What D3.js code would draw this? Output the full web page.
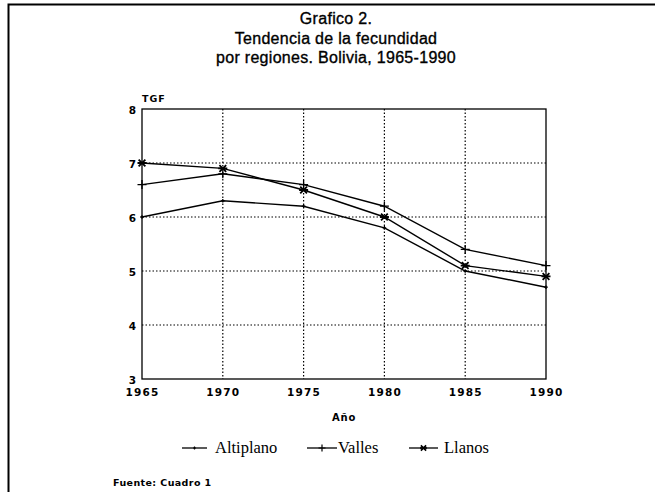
<!DOCTYPE html>
<html>
<head>
<meta charset="utf-8">
<script src="https://cdn.jsdelivr.net/npm/d3@7"></script>
<style>
  body { margin: 0; background: #fff; }
  svg { display: block; }
</style>
</head>
<body>
<div id="chart"></div>
<script>
// data
const years = [1965, 1970, 1975, 1980, 1985, 1990];
const altiplano = [6.0, 6.3, 6.2, 5.8, 5.0, 4.7];
const valles = [6.6, 6.8, 6.6, 6.2, 5.4, 5.1];
const llanos = [7.0, 6.9, 6.5, 6.0, 5.1, 4.9];
const yTicks = [3, 4, 5, 6, 7, 8];
const seriesNames = ['Altiplano', 'Valles', 'Llanos'];
const titleLines = ['Grafico 2.', 'Tendencia de la fecundidad', 'por regiones. Bolivia, 1965-1990'];

const width = 655, height = 492;
const margin = { top: 109, right: 109, bottom: 113, left: 142 };
const w = width - margin.left - margin.right;
const h = height - margin.top - margin.bottom;

const svg = d3.select('#chart').append('svg')
  .attr('width', width)
  .attr('height', height);

// page frame (left and top only)
svg.append('path')
  .attr('d', `M8.5,${height} V4.5 H${width}`)
  .attr('fill', 'none')
  .attr('stroke', '#000')
  .attr('stroke-width', 2);

// title
svg.append('g')
  .selectAll('text')
  .data(titleLines)
  .enter()
  .append('text')
  .attr('x', 336)
  .attr('y', (d, i) => 24 + i * 19.5)
  .attr('text-anchor', 'middle')
  .style('font-family', 'Liberation Sans, Arial, sans-serif')
  .style('font-size', '16px')
  .style('letter-spacing', '0.3px')
  .style('stroke', '#000')
  .style('stroke-width', '0.35px')
  .text(d => d);

const x = d3.scaleLinear().domain([1965, 1990]).range([0, w]);
const y = d3.scaleLinear().domain([3, 8]).range([h, 0]);

const g = svg.append('g')
  .attr('transform', `translate(${margin.left},${margin.top})`);

// grid
g.append('g')
  .attr('class', 'xgrid')
  .selectAll('line')
  .data(years.slice(1, -1))
  .enter()
  .append('line')
  .attr('x1', d => x(d)).attr('x2', d => x(d))
  .attr('y1', 0).attr('y2', h)
  .attr('stroke', '#000')
  .attr('stroke-width', 1.2)
  .attr('stroke-dasharray', '1.5,2');

g.append('g')
  .attr('class', 'ygrid')
  .selectAll('line')
  .data(yTicks.slice(1, -1))
  .enter()
  .append('line')
  .attr('x1', 0).attr('x2', w)
  .attr('y1', d => y(d)).attr('y2', d => y(d))
  .attr('stroke', '#000')
  .attr('stroke-width', 1.2)
  .attr('stroke-dasharray', '1.5,2');

// plot box
g.append('rect')
  .attr('x', 0).attr('y', 0)
  .attr('width', w).attr('height', h)
  .attr('fill', 'none')
  .attr('stroke', '#000')
  .attr('stroke-width', 1.3);

// axes (labels only, no tick lines)
const xAxis = d3.axisBottom(x).tickValues(years).tickFormat(d3.format('d')).tickSize(0).tickPadding(10);
const yAxis = d3.axisLeft(y).tickValues(yTicks).tickFormat(d3.format('d')).tickSize(0).tickPadding(6);

const gx = g.append('g').attr('class', 'xAxis').attr('transform', `translate(0,${h})`).call(xAxis);
const gy = g.append('g').attr('class', 'yAxis').call(yAxis);
[gx, gy].forEach(a => {
  a.select('.domain').remove();
  a.selectAll('.tick text')
    .style('font-family', 'DejaVu Sans, sans-serif')
    .style('font-weight', 'bold')
    .style('font-size', '10.5px')
    .style('fill', '#000');
});
gx.selectAll('.tick text').style('letter-spacing', '1.2px');
gy.selectAll('.tick text').attr('dy', '0.4em');

// axis names
g.append('text')
  .attr('x', 0).attr('y', -7)
  .style('font-family', 'DejaVu Sans, sans-serif')
  .style('font-weight', 'bold')
  .style('font-size', '9.5px')
  .style('letter-spacing', '1px')
  .text('TGF');

g.append('text')
  .attr('x', x(1977.5)).attr('y', h + 42)
  .attr('text-anchor', 'middle')
  .style('font-family', 'DejaVu Sans, sans-serif')
  .style('font-weight', 'bold')
  .style('font-size', '10px')
  .style('letter-spacing', '0.8px')
  .text('Año');

// series
const series = [
  { name: seriesNames[0], values: altiplano, marker: 'dot' },
  { name: seriesNames[1], values: valles, marker: 'plus' },
  { name: seriesNames[2], values: llanos, marker: 'star' }
];

const line = d3.line()
  .x((d, i) => x(years[i]))
  .y(d => y(d));

function markerPath(type, s) {
  if (type === 'dot') {
    return `M${-s * 0.4},0 H${s * 0.4} M0,${-s * 0.4} V${s * 0.4}`;
  } else if (type === 'plus') {
    return `M${-s},0 H${s} M0,${-s} V${s}`;
  }
  const d = s * 0.75;
  return `M${-s},0 H${s} M${-d},${-d} L${d},${d} M${-d},${d} L${d},${-d}`;
}

series.forEach(sr => {
  g.append('path')
    .datum(sr.values)
    .attr('d', line)
    .attr('fill', 'none')
    .attr('stroke', '#000')
    .attr('stroke-width', 1.4);

  g.selectAll(null)
    .data(sr.values)
    .enter()
    .append('path')
    .attr('transform', (d, i) => `translate(${x(years[i])},${y(d)})`)
    .attr('d', markerPath(sr.marker, 4.5))
    .attr('fill', 'none')
    .attr('stroke', '#000')
    .attr('stroke-width', sr.marker === 'star' ? 1.8 : 1.3);
});

// legend
const legendLine = [[182, 207], [307, 337], [409, 438]];
const legendText = [215, 338, 444];
const legendY = 448;
const legend = svg.append('g')
  .selectAll('g')
  .data(series)
  .enter()
  .append('g');

legend.append('line')
  .attr('x1', (d, i) => legendLine[i][0]).attr('x2', (d, i) => legendLine[i][1])
  .attr('y1', legendY).attr('y2', legendY)
  .attr('stroke', '#000')
  .attr('stroke-width', 1.3);

legend.append('path')
  .attr('transform', (d, i) => `translate(${(legendLine[i][0] + legendLine[i][1]) / 2},${legendY})`)
  .attr('d', d => markerPath(d.marker, 3.5))
  .attr('fill', 'none')
  .attr('stroke', '#000')
  .attr('stroke-width', d => d.marker === 'star' ? 1.6 : 1.2);

legend.append('text')
  .attr('x', (d, i) => legendText[i])
  .attr('y', legendY + 4.5)
  .style('font-family', 'Liberation Serif, Times New Roman, serif')
  .style('font-size', '16.5px')
  .text(d => d.name);

// source
svg.append('text')
  .attr('x', 113).attr('y', 486)
  .style('font-family', 'DejaVu Sans, sans-serif')
  .style('font-weight', 'bold')
  .style('font-size', '9.5px')
  .style('letter-spacing', '0.4px')
  .text('Fuente: Cuadro 1');
</script>
</body>
</html>
